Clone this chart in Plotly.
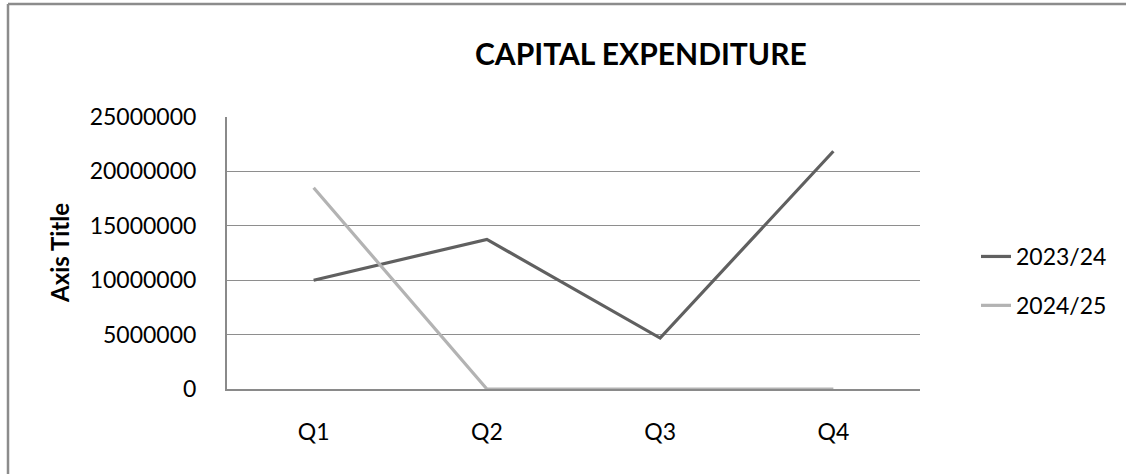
import plotly.graph_objects as go

categories = ["Q1", "Q2", "Q3", "Q4"]
series_names = ["2023/24", "2024/25"]
values_2023_24 = [10000000, 13750000, 4680000, 21850000]
values_2024_25 = [18500000, 0, 0, 0]
y_tick_values = [0, 5000000, 10000000, 15000000, 20000000, 25000000]

title_text = "CAPITAL EXPENDITURE"
y_title_text = "Axis Title"

W, H = 1126, 474
L, R, T, B = 227, 206, 117, 85
pw, ph = W - L - R, H - T - B

def px_x(x):
    return (x - L) / pw

def px_y(y):
    return (H - B - y) / ph

FONT = "Lato"

fig = go.Figure()
colors = ["#606060", "#b3b3b3"]
for name, vals, col, grp in zip(series_names, [values_2023_24, values_2024_25], colors, ["a", "b"]):
    fig.add_trace(go.Scatter(
        x=categories, y=vals, mode="lines", name=name,
        line=dict(color=col, width=3.2), cliponaxis=False, legendgroup=grp,
    ))

fig.update_layout(
    width=W, height=H,
    margin=dict(l=L, r=R, t=T, b=B),
    paper_bgcolor="white", plot_bgcolor="white",
    font=dict(family=FONT, size=23, color="black"),
    showlegend=True,
    legend=dict(
        x=px_x(976), y=px_y(281), xanchor="left", yanchor="middle",
        font=dict(family=FONT, size=23, color="black"),
        tracegroupgap=16, bgcolor="rgba(0,0,0,0)",
    ),
    annotations=[
        dict(text=f"<b>{title_text}</b>", xref="paper", yref="paper",
             x=px_x(641), y=px_y(53), xanchor="center", yanchor="middle",
             showarrow=False, font=dict(family=FONT, size=30, color="black")),
        dict(text=f"<b>{y_title_text}</b>", xref="paper", yref="paper",
             x=px_x(59), y=px_y(253), xanchor="center", yanchor="middle",
             textangle=-90, showarrow=False,
             font=dict(family=FONT, size=24, color="black")),
    ],
    shapes=[
        dict(type="line", xref="paper", yref="paper",
             x0=px_x(8), x1=px_x(1130), y0=px_y(4), y1=px_y(4),
             line=dict(color="#8c8c8c", width=2.5)),
        dict(type="line", xref="paper", yref="paper",
             x0=px_x(8), x1=px_x(8), y0=px_y(4), y1=px_y(480),
             line=dict(color="#8c8c8c", width=2.5)),
    ],
)

fig.update_xaxes(
    type="category", range=[-0.5, 3.5], showgrid=False,
    showline=True, linecolor="#8a8a8a", linewidth=2, layer="below traces",
    ticks="", ticklabelstandoff=21, zeroline=False,
    tickfont=dict(family=FONT, size=23, color="black"),
)
fig.update_yaxes(
    range=[0, 25000000], tickvals=y_tick_values, tickformat="d",
    showgrid=True, gridcolor="#8e8e8e", gridwidth=1.2,
    showline=True, linecolor="#8a8a8a", linewidth=2, layer="below traces",
    ticks="", ticklabelstandoff=24, zeroline=False,
    tickfont=dict(family=FONT, size=23, color="black"),
)

fig.write_html(
    "out.html",
    config={"displayModeBar": False},
    post_script="document.body.style.margin='0';document.body.style.overflow='hidden';",
)
